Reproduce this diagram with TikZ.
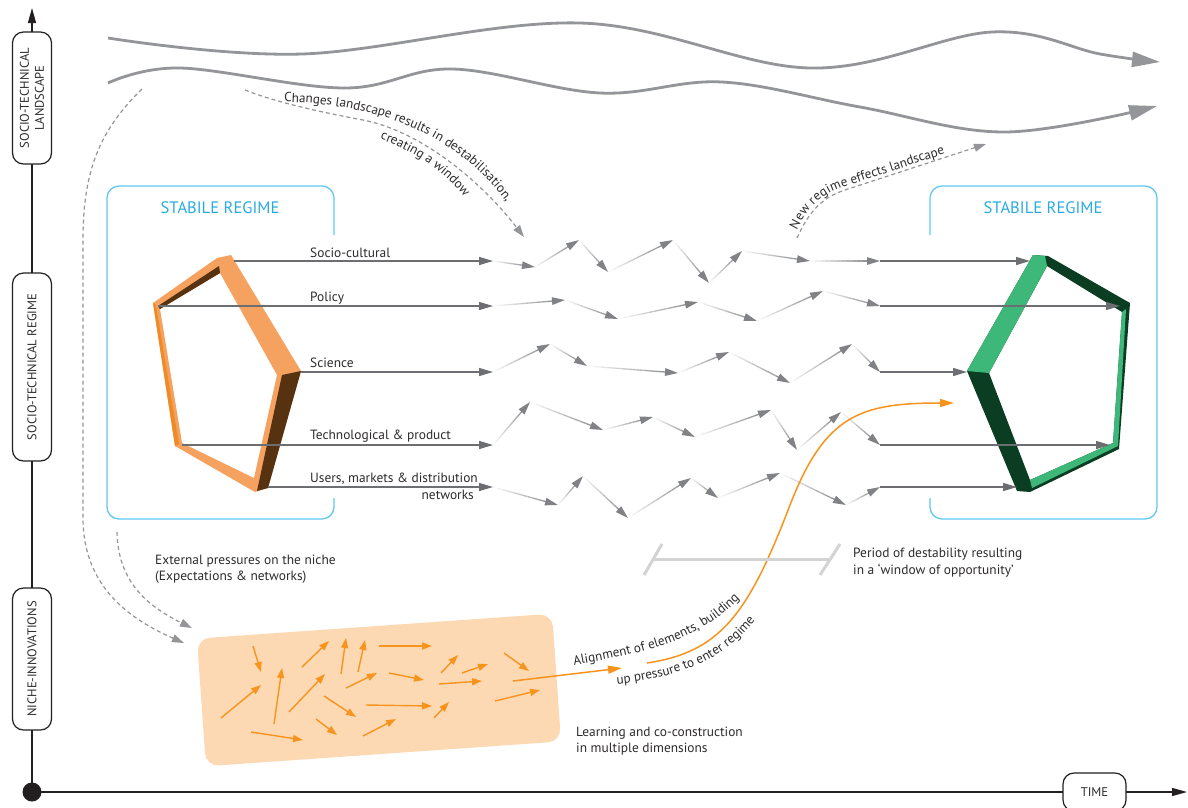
\documentclass[tikz,border=0pt]{standalone}
\usepackage{fontspec}
\setmainfont{PT Sans}
\usetikzlibrary{arrows.meta,calc,decorations.text}

\definecolor{txt}{HTML}{2E2B2C}
\definecolor{axis}{HTML}{231F20}
\definecolor{arr}{HTML}{6D6E71}
\definecolor{zig}{HTML}{808285}
\definecolor{land}{HTML}{939598}
\definecolor{boxblue}{HTML}{62C8F2}
\definecolor{titleblue}{HTML}{29ABE2}
\definecolor{orange}{HTML}{F7941D}
\definecolor{peach}{HTML}{FCD9B3}
\definecolor{pale}{HTML}{D1D3D4}
\definecolor{orL}{HTML}{F5A261}
\definecolor{orD}{HTML}{EE8B27}
\definecolor{brn}{HTML}{573210}
\definecolor{grL}{HTML}{3DB879}
\definecolor{grD}{HTML}{0A3D22}

\newcommand\pathfont{\fontsize{13.2}{15}\selectfont\color{txt}}

% one fading step of a zig-zag trajectory, ending in an arrow tip
\newcommand\fadeseg[2]{%
  \coordinate (fz) at ($(#2)!6pt!(#1)$);
  \foreach \k in {0,...,11}{%
    \pgfmathsetmacro\fa{\k/12}%
    \pgfmathsetmacro\fb{(\k+1)/12}%
    \pgfmathtruncatemacro\sh{5+\k*8}%
    \draw[zigline, draw=zig!\sh!white] ($(#1)!\fa!(fz)$) -- ($(#1)!\fb!(fz)$);
  }%
  \draw[zigtip] ($(#2)!13pt!(#1)$) -- (#2);
}

\begin{document}
\begin{tikzpicture}[x=1pt, y=-1pt,
  lbl/.style={font=\fontsize{13.4}{16}\selectfont, text=txt, inner sep=0pt},
  axbase/.style={draw=axis, line width=1.2pt, fill=white, rounded corners=11pt, inner sep=0pt,
                 font=\fontsize{12.6}{15}\selectfont, text=txt, align=center},
  axlbl/.style={axbase, rotate=90, minimum height=39pt},
  title/.style={font=\fontsize{16.6}{20}\selectfont, text=titleblue, inner sep=0pt},
  regimebox/.style={draw=boxblue, line width=1.3pt, rounded corners=12pt},
  landline/.style={draw=land, line width=2.8pt, -{Triangle[length=28pt,width=15pt]}},
  dashline/.style={draw=land, line width=1.2pt, dash pattern=on 4pt off 3pt, -{Triangle[length=12pt,width=8pt]}},
  regarrow/.style={draw=arr, line width=1.4pt, -{Triangle[length=14pt,width=8pt]}},
  zigline/.style={line width=1.3pt},
  zigtip/.style={draw=zig, line width=1.3pt, -{Triangle[length=13pt,width=7.5pt]}},
  nicharrow/.style={draw=orange, line width=1.4pt, -{Triangle[length=10pt,width=7pt]}},
  orangeline/.style={draw=orange, line width=1.5pt, -{Triangle[length=14pt,width=8pt]}},
  periodbar/.style={draw=pale, line width=3pt},
]
\useasboundingbox (0,0) rectangle (1188,807);
\fill[white] (0,0) rectangle (1188,807);

% ---------------- axes ----------------
\coordinate (origin) at (32,792);
\coordinate (ytop) at (32,8);
\coordinate (xend) at (1187,792);
\draw[axis, line width=1.4pt, -{Triangle[length=15pt,width=8pt]}] (origin) -- (ytop);
\draw[axis, line width=1.4pt, -{Triangle[length=15pt,width=8pt]}] (origin) -- (xend);
\fill[axis] (origin) circle[radius=9.5];

\node[axlbl, minimum width=132pt] (landscape) at (32,98) {SOCIO-TECHNICAL\\LANDSCAPE};
\node[axlbl, minimum width=188pt] (regime) at (32,367) {SOCIO-TECHNICAL REGIME};
\node[axlbl, minimum width=142pt] (niche) at (32,659) {NICHE-INNOVATIONS};
\node[axbase, minimum width=63pt, minimum height=38pt] (time) at (1094.5,792) {TIME};

% ---------------- landscape developments ----------------
\draw[landline] plot[smooth, tension=0.6] coordinates {(108,38) (302,54) (580,23) (810,68) (992,32) (1100,54) (1160,62)};
\draw[landline] plot[smooth, tension=0.6] coordinates {(108,83) (180,68) (344,88) (452,69) (600,93) (722,82) (860,107) (1005,132) (1157,106)};

% ---------------- regime frames ----------------
\draw[regimebox] (334,235) -- (334,186) -- (107,186) -- (107,519) -- (334,519) -- (334,498);
\draw[regimebox] (930,235) -- (930,186) -- (1157,186) -- (1157,519) -- (930,519) -- (930,498);
\node[title] (oldtitle) at (220,208) {STABILE REGIME};
\node[title] (newtitle) at (1043,208) {STABILE REGIME};

% old regime pentagon
\fill[orL, even odd rule] (217,258) -- (231,255) -- (301,371) -- (268,488) -- (255,492) -- (175,446) -- (153,303) -- cycle
  (220,273) -- (277,375) -- (254,478) -- (182,443) -- (160,309) -- cycle;
\fill[brn] (282,375) -- (301,371) -- (268,488) -- (257,491) -- cycle;
\fill[brn] (158,306) -- (219,266) -- (220,273) -- (160,309) -- cycle;
\fill[orD] (153,303) -- (156,305) -- (179,444) -- (175,446) -- cycle;

% new regime pentagon
\fill[grD, even odd rule] (1033,255) -- (1048,256) -- (1130,303) -- (1119,449) -- (1030,492) -- (1017,491) -- (967,371) -- cycle
  (1047,266) -- (1122,312) -- (1113,443) -- (1030,480) -- (989,373) -- cycle;
\fill[grL] (967,371) -- (1033,255) -- (1045,256) -- (1047,266) -- (989,373) -- cycle;
\fill[grL] (1122,312) -- (1126,309) -- (1118,446) -- (1113,443) -- cycle;
\fill[grL] (1113,443) -- (1118,446) -- (1032,488) -- (1030,480) -- cycle;

% ---------------- regime dimensions ----------------
\coordinate (s1) at (234,261); \coordinate (a0) at (493,261);
\coordinate (s2) at (158,306); \coordinate (b0) at (493,306);
\coordinate (s3) at (301,372); \coordinate (c0) at (493,372);
\coordinate (s4) at (182,445); \coordinate (d0) at (493,445);
\coordinate (s5) at (268,487); \coordinate (e0) at (493,487);
\foreach \p/\q in {s1/a0,s2/b0,s3/c0,s4/d0,s5/e0} \draw[regarrow] (\p) -- (\q);

\node[lbl, anchor=base west] (tsoc) at (310,257) {Socio-cultural};
\node[lbl, anchor=base west] (tpol) at (310,301) {Policy};
\node[lbl, anchor=base west] (tsci) at (310,367) {Science};
\node[lbl, anchor=base west] (ttec) at (310,439) {Technological \& product};
\node[lbl, anchor=base west] (tusr) at (310,482) {Users, markets \& distribution};
\node[lbl, anchor=base east] (tnet) at (474,499) {networks};

% destabilised trajectories
\coordinate (a1) at (535,267); \coordinate (a2) at (579,240); \coordinate (a3) at (608,272);
\coordinate (a4) at (673,240); \coordinate (a5) at (709,283); \coordinate (a6) at (742,251);
\coordinate (a7) at (810,261); \coordinate (a8) at (880,261);
\coordinate (b1) at (565,300); \coordinate (b2) at (618,319); \coordinate (b3) at (698,302);
\coordinate (b4) at (757,321); \coordinate (b5) at (823,291); \coordinate (b6) at (880,306);
\coordinate (c1) at (550,344); \coordinate (c2) at (587,366); \coordinate (c3) at (678,373);
\coordinate (c4) at (729,352); \coordinate (c5) at (790,383); \coordinate (c6) at (852,344);
\coordinate (c7) at (880,372);
\coordinate (d1) at (530,402); \coordinate (d2) at (603,430); \coordinate (d3) at (653,417);
\coordinate (d4) at (695,437); \coordinate (d5) at (771,410); \coordinate (d6) at (797,450);
\coordinate (d7) at (841,412); \coordinate (d8) at (880,445);
\coordinate (e1) at (558,505); \coordinate (e2) at (583,476); \coordinate (e3) at (628,518);
\coordinate (e4) at (691,478); \coordinate (e5) at (718,498); \coordinate (e6) at (780,473);
\coordinate (e7) at (846,505); \coordinate (e8) at (880,487);
\foreach \p/\q in {a0/a1,a1/a2,a2/a3,a3/a4,a4/a5,a5/a6,a6/a7,a7/a8,
                   b0/b1,b1/b2,b2/b3,b3/b4,b4/b5,b5/b6,
                   c0/c1,c1/c2,c2/c3,c3/c4,c4/c5,c5/c6,c6/c7,
                   d0/d1,d1/d2,d2/d3,d3/d4,d4/d5,d5/d6,d6/d7,d7/d8,
                   e0/e1,e1/e2,e2/e3,e3/e4,e4/e5,e5/e6,e6/e7,e7/e8}
  {\fadeseg{\p}{\q}}

% new regime dimensions
\coordinate (t1) at (1030,261); \coordinate (t2) at (1120,306); \coordinate (t3) at (967,372);
\coordinate (t4) at (1110,445); \coordinate (t5) at (1017,487);
\foreach \p/\q in {a8/t1,b6/t2,c7/t3,d8/t4,e8/t5} \draw[regarrow] (\p) -- (\q);

% ---------------- landscape pressure arrows ----------------
\coordinate (ch1) at (245,90); \coordinate (ch2) at (524,237);
\draw[dashline] (ch1) .. controls (275,102) and (320,112) .. (363,120)
                .. controls (420,131) and (480,180) .. (ch2);
\path[decorate, decoration={text along path,
      text={|\pathfont|Changes landscape results in destabilisation,}}]
  (284,102) .. controls (370,104) and (462,128) .. (520,222) -- ++(10,16);
\path[decorate, decoration={text along path, text={|\pathfont|creating a window}}]
  (380,139) .. controls (415,152) and (445,170) .. (470,205) -- ++(8,12);

\coordinate (nr1) at (797,238); \coordinate (nr2) at (986,144);
\draw[dashline] (nr1) .. controls (808,214) and (820,198) .. (845,190) -- (nr2);
\path[decorate, decoration={text along path, text align={left indent=7pt}, raise=3.5pt,
      text={|\pathfont|New regime effects landscape}}]
  (nr1) .. controls (808,214) and (820,198) .. (845,190) -- (nr2);

\coordinate (dA1) at (142,89); \coordinate (dA2) at (184,643);
\draw[dashline] (dA1) .. controls (100,130) and (83,170) .. (83,240) -- (83,520) .. controls (84,580) and (120,615) .. (dA2);
\coordinate (dB1) at (117,532); \coordinate (dB2) at (192,628);
\draw[dashline] (dB1) .. controls (118,580) and (145,605) .. (dB2);

\node[lbl, anchor=base west] (ext1) at (155,564) {External pressures on the niche};
\node[lbl, anchor=base west] (ext2) at (155,580) {(Expectations \& networks)};

% ---------------- niche ----------------
\node[fill=peach, rounded corners=13pt, rotate=4, minimum width=356pt, minimum height=128pt] (nichebox) at (379,690) {};
\foreach \xa/\ya/\xb/\yb in {253/646/261/672, 221/718/261/685, 274/724/282/668, 302/667/329/641,
    341/674/346/638, 358/672/365/640, 379/646/432/646, 289/712/325/674, 346/688/377/673,
    389/673/424/680, 324/696/356/717, 366/705/432/706, 316/719/337/735, 363/736/396/719,
    251/732/303/740, 441/673/458/655, 462/673/488/664, 439/684/482/681, 504/653/529/671,
    434/718/449/702, 495/701/540/690}
  \draw[nicharrow] (\xa,\ya) -- (\xb,\yb);

\coordinate (al0) at (513,681); \coordinate (al1) at (622,668);
\draw[orangeline] (al0) -- (al1);
\coordinate (sc1) at (647,663); \coordinate (sc2) at (954,403);
\draw[orangeline] (sc1) .. controls (720,652) and (748,615) .. (790,505) .. controls (825,415) and (860,403) .. (sc2);

\path[decorate, decoration={text along path, text={|\pathfont|Alignment of elements, building}}]
  (574,665) .. controls (650,652) and (710,640) .. (755,580) -- ++(10,-14);
\path[decorate, decoration={text along path, text={|\pathfont|up pressure to enter regime}}]
  (617,684) .. controls (670,678) and (730,664) .. (765,606) -- ++(8,-14);

\node[lbl, anchor=base west] (learn1) at (576,736) {Learning and co-construction};
\node[lbl, anchor=base west] (learn2) at (576,752) {in multiple dimensions};

% ---------------- window of opportunity ----------------
\coordinate (pl1) at (662,544); \coordinate (pl2) at (644,575);
\coordinate (pr1) at (840,544); \coordinate (pr2) at (820,575);
\draw[periodbar] (pl1) -- (pl2);
\draw[periodbar] (pr1) -- (pr2);
\draw[periodbar] ($(pl1)!0.5!(pl2)$) -- ($(pr1)!0.5!(pr2)$);
\node[lbl, anchor=base west] (per1) at (853,557) {Period of destability resulting};
\node[lbl, anchor=base west] (per2) at (853,574) {in a ‘window of opportunity’};

\end{tikzpicture}
\end{document}
